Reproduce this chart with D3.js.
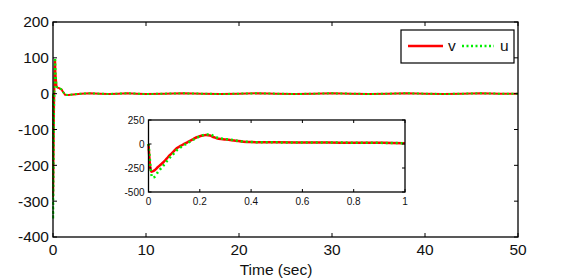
<!DOCTYPE html>
<html><head><meta charset="utf-8">
<script src="https://cdn.jsdelivr.net/npm/d3@7"></script>
<style>
body{margin:0;background:#fff;}
text{font-family:"Liberation Sans",Arial,sans-serif;fill:#111;}
</style></head>
<body><svg id="c" width="571" height="279"></svg>
<script>
// ---- data ----
const tInset = [0, 0.005, 0.01, 0.016, 0.025, 0.035, 0.045, 0.058, 0.07, 0.084, 0.1, 0.11, 0.125, 0.136, 0.15, 0.162, 0.175, 0.188, 0.2, 0.212, 0.224, 0.24, 0.255, 0.266, 0.29, 0.318, 0.345, 0.37, 0.4, 0.45, 0.5, 0.6, 0.7, 0.8, 0.9, 0.95, 1.0];
const vInset = [0, -200, -288, -285, -270, -245, -220, -190, -155, -114, -72, -45, -20, -3, 15, 34, 52, 70, 80, 88, 94, 88, 70, 59, 50, 42, 32, 24, 20, 18, 17, 16, 15, 13, 12, 11, 8];
const uInset = [0, -150, -300, -350, -340, -300, -265, -225, -185, -140, -95, -65, -35, -15, 5, 25, 45, 65, 80, 92, 100, 98, 82, 68, 55, 45, 34, 25, 21, 18, 17, 16, 15, 14, 12, 10, 8];
const tTail = [1.3, 1.7, 2.2, 3, 4, 5, 6, 7, 8, 9, 10, 12, 14, 16, 18, 20, 22, 24, 26, 28, 30, 32, 34, 36, 38, 40, 42, 44, 46, 48, 50];
const vTail = [-3, -4, -2, 0, 1, 0, -1, 0, 1, 0, -1, 0, 1, 0, -1, 0, 1, 0, -1, 0, 1, 0, -1, 0, 1, 0, -1, 0, 1, 0, 0];
const uTail = [-3, -4, -2, 0, 1, 0, -1, 0, 1, 0, -1, 0, 1, 0, -1, 0, 1, 0, -1, 0, 1, 0, -1, 0, 1, 0, -1, 0, 1, 0, 0];
const mainXTicks = [0, 10, 20, 30, 40, 50];
const mainYTicks = [-400, -300, -200, -100, 0, 100, 200];
const insetXTicks = [0, 0.2, 0.4, 0.6, 0.8, 1];
const insetYTicks = [-500, -250, 0, 250];
const seriesNames = ["v", "u"];
const colors = ["#ff0000", "#00ee00"];

const svg = d3.select("#c");

function drawAxesBox(g, x, y, xt, yt, tick, fs, xfmt, yfmt, xLabOff, yLabOff){
  const [x0,x1] = x.range(), [y0,y1] = y.range(); // y0 bottom
  g.append("rect").attr("x",x0).attr("y",y1).attr("width",x1-x0).attr("height",y0-y1)
    .attr("fill","#fff").attr("stroke","none");
  return function frame(){
    const fr = g.append("g");
    xt.forEach(v=>{
      const px=x(v);
      fr.append("line").attr("x1",px).attr("x2",px).attr("y1",y0).attr("y2",y0-tick).attr("stroke","#000");
      fr.append("line").attr("x1",px).attr("x2",px).attr("y1",y1).attr("y2",y1+tick).attr("stroke","#000");
      fr.append("text").attr("x",px).attr("y",y0+xLabOff).attr("text-anchor","middle")
        .attr("font-size",fs).text(xfmt(v));
    });
    yt.forEach(v=>{
      const py=y(v);
      fr.append("line").attr("x1",x0).attr("x2",x0+tick).attr("y1",py).attr("y2",py).attr("stroke","#000");
      fr.append("line").attr("x1",x1).attr("x2",x1-tick).attr("y1",py).attr("y2",py).attr("stroke","#000");
      fr.append("text").attr("x",x0-yLabOff).attr("y",py).attr("dy","0.35em").attr("text-anchor","end")
        .attr("font-size",fs).text(yfmt(v));
    });
    fr.append("rect").attr("x",x0).attr("y",y1).attr("width",x1-x0).attr("height",y0-y1)
      .attr("fill","none").attr("stroke","#000").attr("stroke-width",1.3);
  };
}

// ---- main axes ----
const x = d3.scaleLinear().domain([0,50]).range([53,518]);
const y = d3.scaleLinear().domain([-400,200]).range([237,22]);
const gMain = svg.append("g");
const mainFrame = drawAxesBox(gMain, x, y, mainXTicks, mainYTicks, 4, 15.5, d=>d, d=>d, 18, 4);

const mainT = tInset.concat(tTail);
const mainV = vInset.concat(vTail);
const mainU = uInset.concat(uTail);
const lineMain = d3.line().x(i=>x(mainT[i])).y(i=>y(mainV[i]));
const lineMainU = d3.line().x(i=>x(mainT[i])).y(i=>y(mainU[i]));
const idx = d3.range(mainT.length);
gMain.append("path").attr("d",lineMain(idx)).attr("fill","none").attr("stroke",colors[0]).attr("stroke-width",2);
gMain.append("path").attr("d",lineMainU(idx)).attr("fill","none").attr("stroke",colors[1]).attr("stroke-width",2).attr("stroke-dasharray","2,2.5");
mainFrame();

svg.append("text").attr("x",276).attr("y",275).attr("text-anchor","middle")
  .attr("font-size",15.5).text("Time (sec)");

// ---- legend ----
const lg = svg.append("g");
lg.append("rect").attr("x",401).attr("y",30).attr("width",113).attr("height",33)
  .attr("fill","#fff").attr("stroke","#000").attr("stroke-width",1.2);
lg.append("line").attr("x1",408).attr("x2",443).attr("y1",46).attr("y2",46).attr("stroke",colors[0]).attr("stroke-width",2.5);
lg.append("text").attr("x",448).attr("y",51).attr("font-size",15.5).text(seriesNames[0]);
lg.append("line").attr("x1",462).attr("x2",494).attr("y1",46).attr("y2",46).attr("stroke",colors[1]).attr("stroke-width",2.5).attr("stroke-dasharray","2,2.5");
lg.append("text").attr("x",500).attr("y",51).attr("font-size",15.5).text(seriesNames[1]);

// ---- inset ----
const xi = d3.scaleLinear().domain([0,1]).range([148.5,405]);
const yi = d3.scaleLinear().domain([-500,250]).range([192,120]);
const gIn = svg.append("g");
const inFrame = drawAxesBox(gIn, xi, yi, insetXTicks, insetYTicks, 3, 10, d=>d, d=>d, 13, 4);
const idxIn = d3.range(tInset.length);
gIn.append("path").attr("d",d3.line().curve(d3.curveMonotoneX).x(i=>xi(tInset[i])).y(i=>yi(vInset[i]))(idxIn))
  .attr("fill","none").attr("stroke",colors[0]).attr("stroke-width",2.5);
gIn.append("path").attr("d",d3.line().curve(d3.curveMonotoneX).x(i=>xi(tInset[i])).y(i=>yi(uInset[i]))(idxIn))
  .attr("fill","none").attr("stroke",colors[1]).attr("stroke-width",2.5).attr("stroke-dasharray","2,3");
inFrame();
</script></body></html>
